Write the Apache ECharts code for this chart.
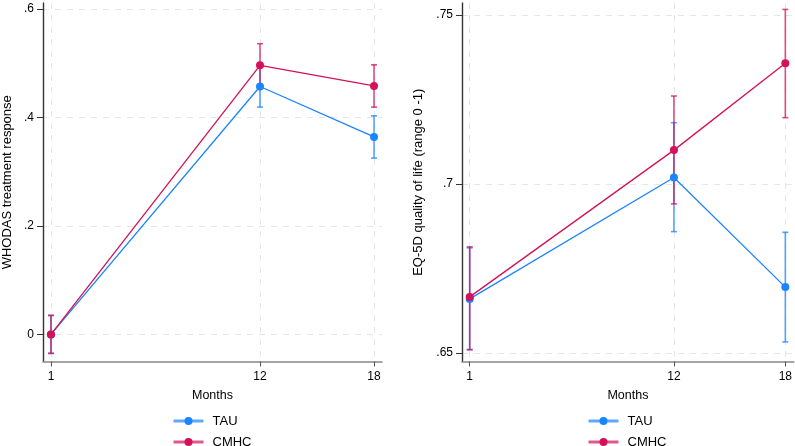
<!DOCTYPE html>
<html>
<head>
<meta charset="utf-8">
<script src="https://cdn.jsdelivr.net/npm/echarts@6/dist/echarts.min.js"></script>
<style>
html,body{margin:0;padding:0;background:#fff;}
#chart{width:795px;height:446px;}
</style>
</head>
<body>
<div id="chart"></div>
<script>
// ---- data ----
const months = [1, 12, 18];
const groups = ['TAU', 'CMHC'];

const whoTau      = [0.000, 0.457, 0.364];
const whoTauLo    = [-0.035, 0.419, 0.325];
const whoTauHi    = [0.035, 0.496, 0.403];
const whoCmhc     = [0.000, 0.496, 0.458];
const whoCmhcLo   = [-0.035, 0.457, 0.419];
const whoCmhcHi   = [0.035, 0.536, 0.497];

const eqTau       = [0.6660, 0.7019, 0.6695];
const eqTauLo     = [0.6510, 0.6859, 0.6533];
const eqTauHi     = [0.6811, 0.7181, 0.6857];
const eqCmhc      = [0.6666, 0.7100, 0.7357];
const eqCmhcLo    = [0.6510, 0.6941, 0.7196];
const eqCmhcHi    = [0.6814, 0.7260, 0.7516];

const whoTicks = [0, 0.2, 0.4, 0.6];
const eqTicks  = [0.65, 0.7, 0.75];

// ---- styling ----
const BLUE = '#1a85ff';
const RED  = '#d41159';
const FONT = 'Liberation Sans';

function fmt(v) {
  if (v === 0) return '0';
  return String(+v.toFixed(3)).replace(/^0\./, '.');
}

function pts(ys) { return months.map((m, i) => [m, ys[i]]); }
function ci(lo, hi) { return months.map((m, i) => [m, lo[i], hi[i]]); }

function errSeries(name, idx, lo, hi, color) {
  return {
    type: 'custom', name: name, xAxisIndex: idx, yAxisIndex: idx, z: 1,
    data: ci(lo, hi),
    encode: { x: 0, y: [1, 2] },
    renderItem: function (params, api) {
      const x = api.value(0);
      const a = api.coord([x, api.value(1)]);
      const b = api.coord([x, api.value(2)]);
      const w = 3;
      const style = { stroke: color, lineWidth: 1.6, opacity: 0.75 };
      return { type: 'group', children: [
        { type: 'line', shape: { x1: a[0], y1: a[1], x2: b[0], y2: b[1] }, style: style },
        { type: 'line', shape: { x1: a[0]-w, y1: a[1], x2: a[0]+w, y2: a[1] }, style: style },
        { type: 'line', shape: { x1: b[0]-w, y1: b[1], x2: b[0]+w, y2: b[1] }, style: style }
      ]};
    }
  };
}

function lineSeries(name, idx, ys, color, z) {
  return {
    type: 'line', name: name, xAxisIndex: idx, yAxisIndex: idx, z: z,
    data: pts(ys), symbol: 'circle', symbolSize: 8,
    itemStyle: { color: color },
    lineStyle: { color: color, width: 1.3 },
    emphasis: { disabled: true }
  };
}

function xAxisDef(idx, min, max) {
  return {
    type: 'value', gridIndex: idx, min: min, max: max,
    name: 'Months', nameLocation: 'middle', nameGap: 27.5,
    nameTextStyle: { fontFamily: FONT, fontSize: 12.5, color: '#000' },
    axisLine: { show: true, onZero: false, lineStyle: { color: '#888', width: 1.6 } },
    axisTick: { show: true, customValues: months, length: 5, lineStyle: { color: '#555', width: 1 } },
    axisLabel: { customValues: months, fontFamily: FONT, fontSize: 12, color: '#000', margin: 9 },
    splitLine: { show: true, lineStyle: { color: '#e6e6e6', type: [6, 6], width: 1 } }
  };
}

function yAxisDef(idx, min, max, ticks, name, gap) {
  return {
    type: 'value', gridIndex: idx, min: min, max: max,
    name: name, nameLocation: 'middle', nameGap: gap,
    nameTextStyle: { fontFamily: FONT, fontSize: 13, color: '#000' },
    axisLine: { show: true, onZero: false, lineStyle: { color: '#333', width: 1.4 } },
    axisTick: { show: true, customValues: ticks, length: 6, lineStyle: { color: '#333', width: 1 } },
    axisLabel: { customValues: ticks, formatter: fmt, fontFamily: FONT, fontSize: 12, color: '#000', margin: 9 },
    splitLine: { show: true, lineStyle: { color: '#e6e6e6', type: [6, 6], width: 1 } }
  };
}

const legendCommon = {
  orient: 'vertical', itemWidth: 30, itemHeight: 10, itemGap: 7,
  padding: 0, height: 60, width: 120,
  textStyle: { fontFamily: FONT, fontSize: 13, lineHeight: 14, color: '#000', padding: [0, 0, 0, 4] },
  lineStyle: { width: 3, opacity: 0.7 },
  data: groups
};

const chart = echarts.init(document.getElementById('chart'), null, { renderer: 'canvas' });
chart.setOption({
  animation: false,
  backgroundColor: '#fff',
  grid: [
    { left: 43, top: 3, width: 339, height: 358.5 },
    { left: 462, top: 3, width: 332, height: 358.5 }
  ],
  xAxis: [ xAxisDef(0, 0.58, 18.42), xAxisDef(1, 0.585, 18.46) ],
  yAxis: [
    yAxisDef(0, -0.05, 0.611, whoTicks, 'WHODAS treatment response', 29),
    yAxisDef(1, 0.6475, 0.7535, eqTicks, 'EQ-5D quality of life (range 0 -1)', 37)
  ],
  legend: [
    Object.assign({ left: 172, top: 414 }, legendCommon),
    Object.assign({ left: 587, top: 414 }, legendCommon)
  ],
  series: [
    errSeries('TAU CI', 0, whoTauLo, whoTauHi, BLUE),
    errSeries('CMHC CI', 0, whoCmhcLo, whoCmhcHi, RED),
    lineSeries(groups[0], 0, whoTau, BLUE, 2),
    lineSeries(groups[1], 0, whoCmhc, RED, 3),
    errSeries('TAU CI', 1, eqTauLo, eqTauHi, BLUE),
    errSeries('CMHC CI', 1, eqCmhcLo, eqCmhcHi, RED),
    lineSeries(groups[0], 1, eqTau, BLUE, 2),
    lineSeries(groups[1], 1, eqCmhc, RED, 3)
  ]
});
</script>
</body>
</html>
